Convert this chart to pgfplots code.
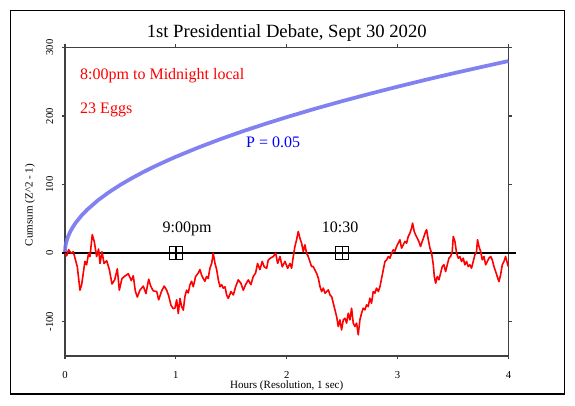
\documentclass[border=0pt]{standalone}
\usepackage{fontspec}
\setmainfont{Liberation Serif}
\usepackage{pgfplots}
\pgfplotsset{compat=1.18}
\definecolor{envblue}{RGB}{115,115,240}
\definecolor{axgray}{RGB}{64,64,64}
\begin{document}
\begin{tikzpicture}
\path[use as bounding box] (0,0) rectangle (431.25pt,303.75pt);
\draw[line width=0.9pt] (7.875pt,8.25pt) rectangle (423.4pt,295.9pt);
\begin{axis}[
  at={(48.75pt,36.75pt)}, anchor=south west,
  scale only axis, width=332.6pt, height=231.4pt,
  xmin=0, xmax=4, ymin=-150, ymax=300,
  clip=false,
  axis line style={axgray, line width=0.9pt},
  xtick={0,1,2,3,4}, ytick={-100,0,100,200,300},
  tick align=outside, major tick length=2.6pt,
  tick style={axgray, line width=0.9pt},
  xtick pos=both, ytick pos=both,
  xticklabel pos=left, yticklabel pos=left,
  /pgf/number format/assume math mode=true,
  ticklabel style={font=\fontsize{8}{9}\selectfont},
  yticklabel style={rotate=90, anchor=south, inner sep=0pt, yshift=6pt},
  xticklabel style={anchor=north, inner sep=0pt, yshift=-8.5pt},
]
% envelope P = 0.05
\addplot[envblue, line width=2.8pt, opacity=0.9] coordinates {
(0,0) (0.002,7.2) (0.005,10.9) (0.01,15.0) (0.02,20.7) (0.03,25.2) (0.05,32.2)
(0.075,39.2) (0.1,45.1) (0.15,55.1) (0.2,63.4) (0.3,77.5) (0.4,89.3) (0.5,99.7)
(0.6,109.1) (0.7,117.8) (0.8,125.9) (0.9,133.4) (1.0,140.6) (1.2,153.9) (1.4,166.2)
(1.6,177.6) (1.8,188.3) (2.0,198.4) (2.25,210.4) (2.5,221.7) (2.75,232.5) (3.0,242.8)
(3.25,252.7) (3.5,262.2) (3.75,271.3) (4.0,280.2)
};
% zero line
\addplot[black, line width=1.5pt] coordinates {(-0.027,0) (4.068,0)};
% cumulative deviation
\addplot[red, line width=1.2pt, line join=round] coordinates {
(0,0) (0.009,-2) (0.015,-4) (0.033,5) (0.054,0) (0.075,2) (0.09,-7) (0.111,-20)
(0.135,-54) (0.15,-46) (0.165,-29) (0.18,-12) (0.195,-17) (0.213,0) (0.225,-5)
(0.246,27) (0.264,17) (0.285,-5) (0.303,6) (0.316,-15) (0.334,2) (0.352,-15)
(0.376,-11) (0.4,-24) (0.424,-45) (0.448,-39) (0.472,-23) (0.49,-54) (0.514,-37)
(0.544,-33) (0.571,-30) (0.598,-40) (0.616,-33) (0.634,-55) (0.652,-64) (0.676,-54)
(0.706,-48) (0.73,-59) (0.755,-38) (0.773,-48) (0.796,-55) (0.827,-56) (0.845,-68)
(0.872,-55) (0.895,-48) (0.917,-54) (0.935,-62) (0.956,-76) (0.977,-81)
(0.992,-80) (1.007,-68) (1.022,-88) (1.037,-66) (1.052,-78) (1.067,-83) (1.082,-63)
(1.097,-54) (1.112,-58) (1.127,-46) (1.142,-41) (1.157,-49) (1.178,-34) (1.202,-29)
(1.217,-24) (1.232,-32) (1.247,-37) (1.262,-41) (1.277,-34) (1.292,-37) (1.307,-22)
(1.323,-15) (1.337,0) (1.353,-15) (1.368,-24) (1.383,-39) (1.398,-49) (1.413,-46)
(1.428,-51) (1.443,-49) (1.458,-61) (1.473,-66) (1.497,-56) (1.518,-61) (1.539,-49)
(1.563,-39) (1.587,-44) (1.608,-54) (1.629,-46) (1.653,-39) (1.677,-46) (1.698,-34)
(1.719,-29) (1.737,-15) (1.758,-24) (1.779,-12) (1.797,-20) (1.819,-22) (1.833,-10)
(1.855,-7) (1.878,-5) (1.9,0) (1.918,-15) (1.939,-5) (1.96,-20) (1.984,-12) (2.008,-22)
(2.029,-15) (2.044,-22) (2.059,-5) (2.074,10) (2.089,19.5) (2.104,31.6) (2.119,21.9)
(2.134,14.6) (2.149,2.4) (2.164,12.2) (2.179,0) (2.194,-4.9) (2.209,-12.2) (2.224,-19.5)
(2.239,-19.5) (2.254,-24.3) (2.269,-29.2) (2.285,-36.5) (2.30,-48.7) (2.315,-56)
(2.33,-51) (2.345,-58.4) (2.36,-56) (2.375,-53.5) (2.39,-60.8) (2.405,-63.3) (2.42,-73)
(2.435,-82.7) (2.45,-92.5) (2.465,-107) (2.48,-97.3) (2.495,-112) (2.51,-97.3)
(2.525,-94.9) (2.54,-102) (2.555,-87.6) (2.57,-97.3) (2.585,-80.3) (2.60,-102)
(2.615,-107) (2.63,-102) (2.645,-119) (2.66,-97.3) (2.675,-87.6) (2.69,-80.3)
(2.705,-82.7) (2.72,-75.4) (2.735,-77.9) (2.75,-65.7) (2.765,-73) (2.78,-56)
(2.795,-58.4) (2.81,-51) (2.826,-56) (2.841,-48.7) (2.856,-36.5) (2.871,-24.3)
(2.886,-12.2) (2.901,-9.7) (2.916,-4.9) (2.931,-7.3) (2.946,0) (2.961,4.9) (2.976,3)
(2.991,9.7) (3.006,14.6) (3.021,19.5) (3.036,7.3) (3.051,12.2) (3.066,17) (3.081,14.6)
(3.096,24.3) (3.111,29.2) (3.126,36.5) (3.135,43.8) (3.150,31.6) (3.162,26.8)
(3.177,21.9) (3.192,17) (3.207,9.7) (3.222,17) (3.238,24.3) (3.253,31.6) (3.262,34.1)
(3.277,19.5) (3.292,7.3) (3.307,0) (3.322,-17) (3.331,-34.1) (3.343,-43.8) (3.358,-34.1)
(3.373,-38.9) (3.388,-29.2) (3.403,-19.5) (3.418,-17) (3.433,-26.8) (3.448,-17)
(3.463,-7.3) (3.478,-4.9) (3.493,2.4) (3.502,24.3) (3.517,17) (3.532,0) (3.547,-7.3)
(3.562,-4.9) (3.577,-12.2) (3.592,-7.3) (3.607,-17) (3.622,-12.2) (3.637,-19.5)
(3.652,-17) (3.667,-21.9) (3.682,-12.2) (3.697,-2.4) (3.712,2.4) (3.721,19.5)
(3.734,9.7) (3.749,2.4) (3.764,-9.7) (3.779,-4.9) (3.794,-17) (3.809,-12.2)
(3.824,-7.3) (3.839,-4.9) (3.854,-9.7) (3.869,-19.5) (3.884,-26.8) (3.899,-34.1)
(3.914,-41.4) (3.929,-31.6) (3.944,-17) (3.959,-12.2) (3.974,-4.9) (3.986,-12.2)
(3.998,-19.5)
};
% markers
\addplot[only marks, mark=square, mark size=4.8pt, black, line width=1pt] coordinates {(1,0) (2.5,0)};
\addplot[only marks, mark=+, mark size=4.8pt, black, line width=1pt] coordinates {(1,0) (2.5,0)};
% texts
\node[anchor=base, font=\fontsize{14}{16}\selectfont] at (axis cs:2.0,315) {1st Presidential Debate, Sept 30 2020};
\node[anchor=base west, inner sep=0pt, red, font=\fontsize{12}{14}\selectfont] at (axis cs:0.135,252.6) {8:00pm to Midnight local};
\node[anchor=base west, inner sep=0pt, red, font=\fontsize{12}{14}\selectfont] at (axis cs:0.135,204) {23 Eggs};
\node[anchor=base west, inner sep=0pt, blue, font=\fontsize{12}{14}\selectfont] at (axis cs:1.632,153.4) {P = 0.05};
\node[anchor=base west, inner sep=0pt, font=\fontsize{12}{14}\selectfont] at (axis cs:0.878,29.5) {9:00pm};
\node[anchor=base west, inner sep=0pt, font=\fontsize{12}{14}\selectfont] at (axis cs:2.315,29.5) {10:30};
\node[anchor=base, inner sep=0pt, font=\fontsize{8.3}{10}\selectfont] at (axis cs:2.0,-197.3) {Hours (Resolution, 1 sec)};
\node[anchor=center, rotate=90, inner sep=0pt, font=\fontsize{8.3}{10}\selectfont] at (axis cs:-0.316,70.3) {Cumsum (Z\^{}2 - 1)};
\end{axis}
\end{tikzpicture}
\end{document}
